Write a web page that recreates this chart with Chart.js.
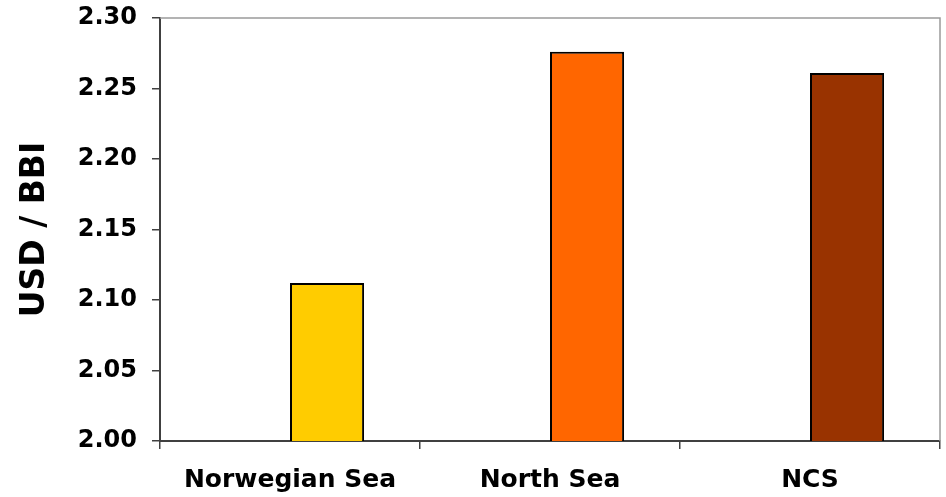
<!DOCTYPE html>
<html>
<head>
<meta charset="utf-8">
<script src="https://cdn.jsdelivr.net/npm/chart.js@4"></script>
<style>
  html, body { margin: 0; padding: 0; background: #fff; }
  #wrap { width: 946px; height: 497px; position: relative; }
</style>
</head>
<body>
<div id="wrap"><canvas id="chart"></canvas></div>
<script>
// Données
const categories = ['Norwegian Sea', 'North Sea', 'NCS'];
const emptySeries = [null, null, null];          // série vide (décale les barres à droite)
const priceValues = [2.112, 2.276, 2.261];
const barColors = ['#FFCC00', '#FF6600', '#993300'];
const yMin = 2.00, yMax = 2.30, yStep = 0.05;

const FONT = '"DejaVu Sans", sans-serif';

// Cadre gris en haut et à droite de la zone de tracé
const plotFrame = {
    id: 'plotFrame',
    afterDatasetsDraw(chart) {
        const { ctx, chartArea: a } = chart;
        ctx.save();
        ctx.strokeStyle = '#9a9a9a';
        ctx.lineWidth = 1.5;
        ctx.beginPath();
        ctx.moveTo(a.left, a.top);
        ctx.lineTo(a.right, a.top);
        ctx.lineTo(a.right, a.bottom);
        ctx.stroke();
        ctx.restore();
    }
};

new Chart(document.getElementById('chart').getContext('2d'), {
    type: 'bar',
    data: {
        labels: categories,
        datasets: [
            { data: emptySeries, backgroundColor: '#fff' },
            {
                data: priceValues,
                backgroundColor: barColors,
                borderColor: '#000',
                borderWidth: 2
            }
        ]
    },
    options: {
        responsive: true,
        maintainAspectRatio: false,
        animation: false,
        layout: { padding: { top: 18, right: 6, left: 0, bottom: 0 } },
        categoryPercentage: 0.57,
        barPercentage: 1.0,
        plugins: {
            legend: { display: false },
            tooltip: { enabled: false }
        },
        scales: {
            x: {
                grid: { drawOnChartArea: false, drawTicks: true, tickLength: 8, color: '#404040', lineWidth: 1.5, offset: true },
                border: { color: '#404040', width: 2 },
                ticks: {
                    color: '#000',
                    padding: 16,
                    maxRotation: 0,
                    font: { family: FONT, size: 25, weight: 'bold' }
                },
                afterFit(scale) {
                    scale.height = 56;
                    scale.paddingLeft = 0;
                    scale.paddingRight = 0;
                }
            },
            y: {
                min: yMin,
                max: yMax,
                grid: { drawOnChartArea: false, drawTicks: true, tickLength: 8, color: '#404040', lineWidth: 1.5 },
                border: { color: '#404040', width: 2 },
                ticks: {
                    stepSize: yStep,
                    color: '#000',
                    padding: 15,
                    font: { family: FONT, size: 24, weight: 'bold' },
                    callback: v => Number(v).toFixed(2)
                },
                title: {
                    display: true,
                    text: 'USD / BBI',
                    color: '#000',
                    padding: { top: 16, bottom: 0 },
                    font: { family: FONT, size: 33, weight: 'bold' }
                },
                afterFit(scale) {
                    scale.width = 160;
                    scale.paddingTop = 0;
                    scale.paddingBottom = 0;
                }
            }
        }
    },
    plugins: [plotFrame]
});
</script>
</body>
</html>
